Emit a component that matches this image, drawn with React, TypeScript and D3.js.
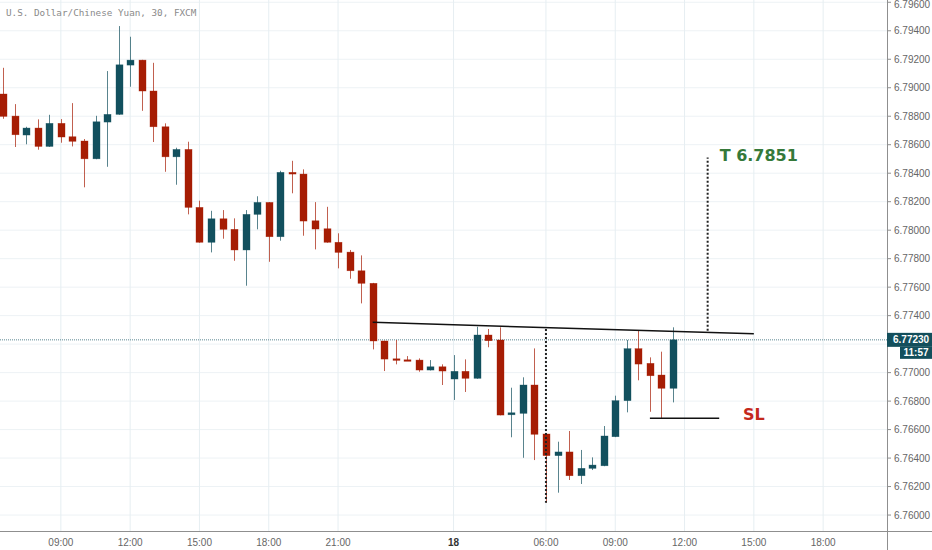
import React from "react";
import * as d3 from "d3";

const TITLE = "U.S. Dollar/Chinese Yuan, 30, FXCM";

const OPEN = [
  6.78956, 6.78801, 6.78668, 6.78717, 6.78588, 6.7875, 6.78656, 6.78626, 6.78501, 6.78759,
  6.78813, 6.79159, 6.79194, 6.78977, 6.78726, 6.78515, 6.78567, 6.7816, 6.77915, 6.7808,
  6.78006, 6.77861, 6.78111, 6.78195, 6.77954, 6.78406, 6.78394, 6.78066, 6.7801, 6.77915,
  6.77846, 6.77715, 6.77627, 6.77222, 6.77097, 6.7709, 6.77088, 6.77018, 6.77041, 6.76955,
  6.77009, 6.7696, 6.77264, 6.77229, 6.76704, 6.76714, 6.76913, 6.76569, 6.76417, 6.76443,
  6.76276, 6.76328, 6.76346, 6.7655, 6.76803, 6.77168, 6.77065, 6.76983, 6.7689,
];
const HIGH = [
  6.7914, 6.78885, 6.78726, 6.78778, 6.7881, 6.7878, 6.78892, 6.7864, 6.78803, 6.79117,
  6.79433, 6.79358, 6.79196, 6.79175, 6.7875, 6.78579, 6.78621, 6.78207, 6.78136, 6.78141,
  6.78083, 6.78141, 6.78238, 6.78197, 6.78417, 6.78487, 6.78427, 6.78197, 6.78164, 6.77978,
  6.77861, 6.77823, 6.7763, 6.77224, 6.77229, 6.77116, 6.771, 6.77088, 6.77058, 6.77123,
  6.77093, 6.77322, 6.77306, 6.77318, 6.76894, 6.76967, 6.7717, 6.76574, 6.76515, 6.7659,
  6.76457, 6.76405, 6.76625, 6.76838, 6.77229, 6.77294, 6.77107, 6.77147, 6.77318,
];
const LOW = [
  6.78782, 6.78584, 6.78603, 6.78565, 6.78585, 6.78614, 6.78588, 6.78301, 6.78498, 6.78445,
  6.7881, 6.79007, 6.78838, 6.78619, 6.7841, 6.78319, 6.78111, 6.77912, 6.77844, 6.7794,
  6.77785, 6.7761, 6.78006, 6.77778, 6.77926, 6.78259, 6.77961, 6.77865, 6.77912, 6.77732,
  6.77659, 6.77486, 6.77163, 6.77011, 6.77058, 6.77083, 6.77006, 6.77015, 6.76913, 6.76808,
  6.76864, 6.76957, 6.77178, 6.767, 6.76546, 6.76402, 6.76386, 6.76087, 6.76157, 6.76246,
  6.76218, 6.76316, 6.76343, 6.76547, 6.76721, 6.76946, 6.76725, 6.76679, 6.76791,
];
const CLOSE = [
  6.78799, 6.7867, 6.78717, 6.78588, 6.7875, 6.78654, 6.78624, 6.78501, 6.78761, 6.78813,
  6.79161, 6.79194, 6.78977, 6.78726, 6.78515, 6.78567, 6.7816, 6.77915, 6.7808, 6.78006,
  6.77861, 6.78111, 6.78195, 6.77954, 6.78406, 6.78394, 6.78064, 6.78008, 6.77915, 6.77844,
  6.77715, 6.77627, 6.77222, 6.77095, 6.77086, 6.77083, 6.77018, 6.77041, 6.77011, 6.77009,
  6.7696, 6.77264, 6.77224, 6.76702, 6.76718, 6.76913, 6.76567, 6.76417, 6.76443, 6.76276,
  6.76328, 6.76351, 6.76555, 6.76803, 6.77168, 6.7706, 6.76978, 6.7689, 6.7723,
];

const PRICE_TICKS = [
  6.76, 6.762, 6.764, 6.766, 6.768, 6.77, 6.772, 6.774, 6.776, 6.778, 6.78, 6.782, 6.784,
  6.786, 6.788, 6.79, 6.792, 6.794, 6.796,
];
const TIME_TICK_INDEX = [5, 11, 17, 23, 29, 39, 47, 53, 59, 65, 71];
const TIME_TICK_LABEL = ["09:00", "12:00", "15:00", "18:00", "21:00", "18", "06:00", "09:00", "12:00", "15:00", "18:00"];

const LAST_PRICE = 6.7723;
const LAST_TIME = "11:57";
const TREND_X = [32, 65];
const TREND_Y = [6.77353, 6.77273];
const MEASURE1_X = 47;
const MEASURE1_Y = [6.77306, 6.76087];
const TARGET_X = 61;
const TARGET_Y = [6.77294, 6.7851];
const TARGET_LABEL = "T 6.7851";
const SL_X = [56, 62];
const SL_PRICE = 6.76679;
const SL_LABEL = "SL";

const W = 932;
const H = 550;
const AXIS_X = 887;
const AXIS_Y = 531;

export default function App() {
  const x = d3.scaleLinear().domain([0, 76.5]).range([3.1, 3.1 + 11.55 * 76.5]);
  const y = d3.scaleLinear().domain([6.75888, 6.79616]).range([AXIS_Y, 0]);
  const RED = "#a61d04";
  const TEAL = "#12505e";
  const bw = 7;
  const candles = OPEN.map((o, i) => ({ o, h: HIGH[i], l: LOW[i], c: CLOSE[i], i }));
  const fmt = d3.format(".5f");
  const yLast = y(LAST_PRICE);

  return (
    <svg
      width={W}
      height={H}
      style={{ position: "fixed", left: 0, top: 0, background: "#fff" }}
      fontFamily="'Liberation Sans', Arial, sans-serif"
    >
      <rect x={0} y={0} width={W} height={H} fill="#fff" />
      {/* grid */}
      {PRICE_TICKS.map((p) => (
        <line key={"hg" + p} x1={0} x2={AXIS_X} y1={y(p)} y2={y(p)} stroke="#edf2f5" strokeWidth={1} />
      ))}
      {TIME_TICK_INDEX.map((t) => (
        <line key={"vg" + t} x1={x(t)} x2={x(t)} y1={0} y2={AXIS_Y} stroke="#e6eef2" strokeWidth={1} />
      ))}
      {/* current price line */}
      <line x1={0} x2={AXIS_X} y1={yLast} y2={yLast} stroke="#5b8791" strokeWidth={1} strokeDasharray="1,1" />
      {/* candles */}
      {candles.map((d) => {
        const up = d.c >= d.o;
        const col = up ? TEAL : RED;
        const top = y(Math.max(d.o, d.c));
        const bot = y(Math.min(d.o, d.c));
        const cx = Math.round(x(d.i)) + 0.5;
        return (
          <g key={d.i}>
            <line x1={cx} x2={cx} y1={y(d.h)} y2={y(d.l)} stroke={col} strokeOpacity={0.7} strokeWidth={1} />
            <rect x={cx - bw / 2} y={top} width={bw} height={Math.max(1.5, bot - top)} fill={col} stroke={col} strokeOpacity={0.6} strokeWidth={0.6} />
          </g>
        );
      })}
      {/* trendline */}
      <line x1={x(TREND_X[0])} x2={x(TREND_X[1])} y1={y(TREND_Y[0])} y2={y(TREND_Y[1])} stroke="#111" strokeWidth={1.5} />
      {/* measure lines */}
      <line x1={x(MEASURE1_X)} x2={x(MEASURE1_X)} y1={y(MEASURE1_Y[0])} y2={y(MEASURE1_Y[1])} stroke="#222" strokeWidth={2} strokeDasharray="2,2" />
      <line x1={x(TARGET_X)} x2={x(TARGET_X)} y1={y(TARGET_Y[0])} y2={y(TARGET_Y[1])} stroke="#222" strokeWidth={2} strokeDasharray="2,2" />
      <text x={x(TARGET_X) + 12} y={y(TARGET_Y[1]) + 3.5} fill="#35793a" fontSize={16} fontWeight="bold" fontFamily="'DejaVu Sans', sans-serif">
        {TARGET_LABEL}
      </text>
      {/* SL */}
      <line x1={x(SL_X[0])} x2={x(SL_X[1])} y1={y(SL_PRICE)} y2={y(SL_PRICE)} stroke="#111" strokeWidth={1.5} />
      <text x={743} y={y(SL_PRICE) + 2} fill="#c4281c" fontSize={16} fontWeight="bold" fontFamily="'DejaVu Sans', sans-serif">
        {SL_LABEL}
      </text>
      {/* title */}
      <text x={6} y={16} fill="#8a8a8a" fontSize={9.3} fontFamily="'DejaVu Sans Mono', monospace">
        {TITLE}
      </text>
      {/* axes */}
      <line x1={0} x2={W} y1={AXIS_Y + 0.5} y2={AXIS_Y + 0.5} stroke="#8f8f8f" strokeWidth={1} />
      <line x1={AXIS_X + 0.5} x2={AXIS_X + 0.5} y1={0} y2={H} stroke="#8f8f8f" strokeWidth={1} />
      {PRICE_TICKS.map((p) => (
        <g key={"pt" + p}>
          <line x1={AXIS_X} x2={AXIS_X + 4} y1={y(p)} y2={y(p)} stroke="#8f8f8f" />
          {Math.abs(y(p) - yLast) > 12 && (
            <text x={AXIS_X + 7} y={Math.max(y(p) + 3.5, 8)} fill="#666" fontSize={10}>
              {fmt(p)}
            </text>
          )}
        </g>
      ))}
      {TIME_TICK_INDEX.map((t, k) => (
        <text
          key={"tt" + t}
          x={x(t)}
          y={AXIS_Y + 15}
          fill={TIME_TICK_LABEL[k].length < 3 ? "#333" : "#666"}
          fontWeight={TIME_TICK_LABEL[k].length < 3 ? "bold" : "normal"}
          fontSize={10}
          textAnchor="middle"
        >
          {TIME_TICK_LABEL[k]}
        </text>
      ))}
      {/* price label */}
      <rect x={AXIS_X} y={yLast - 7} width={W - AXIS_X} height={14} fill="#134f5c" />
      <text x={AXIS_X + 6} y={yLast + 3.5} fill="#fff" fontSize={10} fontWeight="bold">
        {fmt(LAST_PRICE)}
      </text>
      <rect x={900} y={yLast + 7} width={W - 900} height={12} fill="#134f5c" />
      <text x={916} y={yLast + 16.5} fill="#fff" fontSize={10} fontWeight="bold" textAnchor="middle">
        {LAST_TIME}
      </text>
    </svg>
  );
}
